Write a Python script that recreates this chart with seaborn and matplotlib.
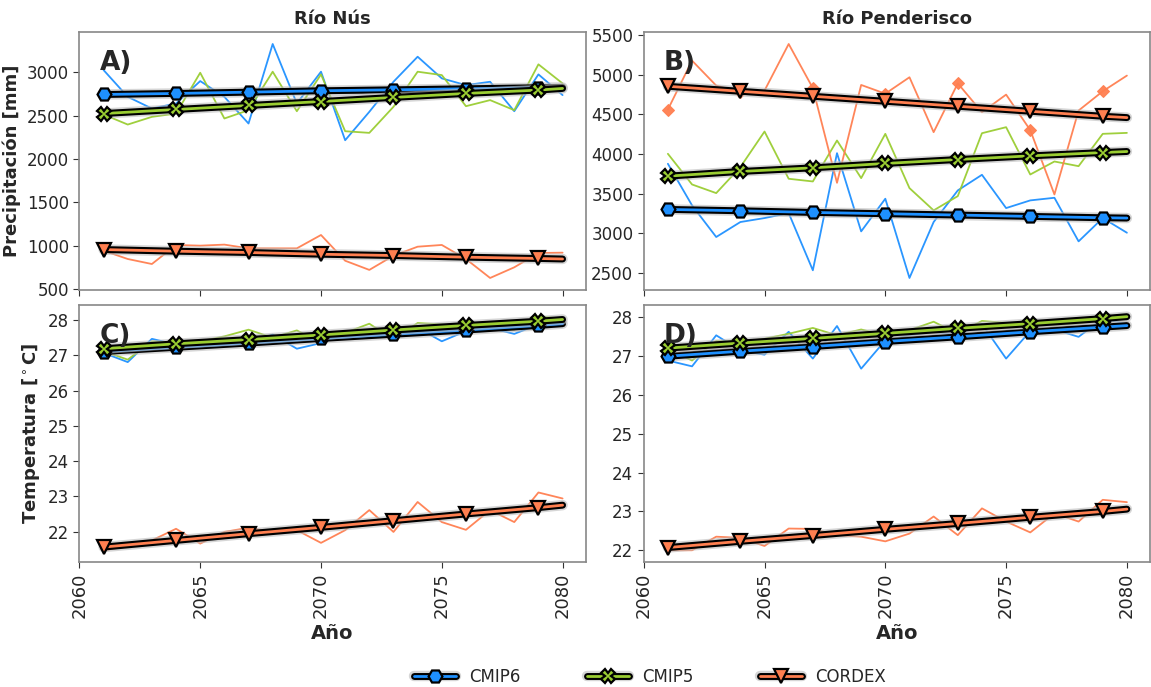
import numpy as np
import pandas as pd
import matplotlib
matplotlib.use("Agg")
import matplotlib.pyplot as plt
import matplotlib.patheffects as pe
from matplotlib.ticker import MultipleLocator
from matplotlib.legend_handler import HandlerTuple
import seaborn as sns

# ---------------- data ----------------
years = list(range(2061, 2081))
trend_years = [2061, 2064, 2067, 2070, 2073, 2076, 2079, 2080]
models = ["CMIP6", "CMIP5", "CORDEX"]

# Panel A: Río Nús precipitation
nus_pr_cmip6 = [3027, 2718, 2583, 2641, 2900, 2718, 2410, 3328, 2641, 3008,
                2217, 2545, 2892, 3181, 2931, 2853, 2892, 2552, 2977, 2738]
nus_pr_cmip5 = [2514, 2398, 2487, 2525, 2996, 2468, 2564, 3008, 2552, 2977,
                2321, 2302, 2603, 3008, 2969, 2610, 2680, 2564, 3093, 2873]
nus_pr_cordex = [942, 846, 788, 1008, 1000, 1012, 969, 969, 969, 1123,
                 826, 720, 884, 988, 1008, 846, 627, 750, 915, 919]
nus_pr_tr_cmip6 = [2745, 2757, 2772, 2788, 2799, 2811, 2823, 2826]
nus_pr_tr_cmip5 = [2525, 2572, 2618, 2664, 2711, 2757, 2796, 2815]
nus_pr_tr_cordex = [955, 936, 921, 901, 886, 867, 852, 846]

# Panel B: Río Penderisco precipitation
pen_pr_cmip6 = [3875, 3350, 2951, 3140, 3190, 3253, 2531, 4009, 3022, 3434,
                2434, 3140, 3539, 3736, 3316, 3413, 3446, 2896, 3190, 3005]
pen_pr_cmip5 = [4001, 3614, 3505, 3833, 4282, 3686, 3652, 4169, 3694, 4253,
                3568, 3287, 3467, 4261, 4337, 3740, 3904, 3845, 4253, 4265]
pen_pr_cordex = [4560, 5177, 4862, 4778, 4799, 5387, 4830, 3635, 4870, 4760,
                 4967, 4274, 4890, 4526, 4748, 4300, 3488, 4547, 4790, 4988]
pen_pr_tr_cmip6 = [3299, 3282, 3261, 3245, 3228, 3211, 3194, 3190]
pen_pr_tr_cmip5 = [3719, 3778, 3824, 3879, 3929, 3975, 4017, 4030]
pen_pr_tr_cordex = [4853, 4790, 4727, 4664, 4601, 4538, 4475, 4458]

# Panel C: Río Nús temperature
nus_t_cmip6 = [27.07, 26.81, 27.47, 27.31, 27.21, 27.45, 27.35, 27.59, 27.19, 27.35,
               27.59, 27.64, 27.54, 27.78, 27.40, 27.69, 27.78, 27.61, 27.88, 27.92]
nus_t_cmip5 = [27.12, 26.88, 27.40, 27.35, 27.40, 27.54, 27.73, 27.50, 27.71, 27.35,
               27.64, 27.90, 27.45, 27.92, 27.88, 27.78, 27.85, 27.73, 28.11, 28.04]
nus_t_cordex = [21.47, 21.58, 21.75, 22.08, 21.66, 21.99, 22.11, 21.99, 22.04, 21.68,
                22.04, 22.61, 21.99, 22.84, 22.27, 22.05, 22.61, 22.27, 23.11, 22.94]
nus_t_tr_cmip6 = [27.11, 27.23, 27.35, 27.48, 27.60, 27.72, 27.85, 27.90]
nus_t_tr_cmip5 = [27.19, 27.33, 27.45, 27.58, 27.72, 27.85, 27.97, 28.02]
nus_t_tr_cordex = [21.56, 21.75, 21.94, 22.12, 22.31, 22.50, 22.68, 22.75]

# Panel D: Río Penderisco temperature
pen_t_cmip6 = [26.89, 26.74, 27.54, 27.15, 27.04, 27.63, 26.94, 27.78, 26.68, 27.41,
               27.54, 27.63, 27.54, 27.83, 26.94, 27.65, 27.69, 27.50, 27.97, 27.83]
pen_t_cmip5 = [27.19, 26.89, 27.39, 27.37, 27.45, 27.58, 27.73, 27.54, 27.69, 27.54,
               27.67, 27.89, 27.58, 27.91, 27.86, 27.80, 27.80, 27.84, 27.97, 28.03]
pen_t_cordex = [22.00, 22.00, 22.35, 22.32, 22.11, 22.56, 22.55, 22.39, 22.35, 22.23,
                22.43, 22.87, 22.39, 23.08, 22.74, 22.46, 22.95, 22.74, 23.30, 23.24]
pen_t_tr_cmip6 = [27.00, 27.13, 27.25, 27.38, 27.50, 27.63, 27.75, 27.79]
pen_t_tr_cmip5 = [27.21, 27.34, 27.46, 27.59, 27.72, 27.84, 27.97, 28.02]
pen_t_tr_cordex = [22.07, 22.23, 22.38, 22.54, 22.69, 22.85, 23.00, 23.06]

col_titles = ["Río Nús", "Río Penderisco"]
panel_letters = ["A)", "B)", "C)", "D)"]
ylabels = ["Precipitación [mm]", "Temperatura [$^\\circ$C]"]
xlabel = "Año"
xticks = [2060, 2065, 2070, 2075, 2080]

# ---------------- style ----------------
sns.set_style("ticks")
plt.rcParams["font.family"] = ["DejaVu Sans"]

colors = {"CMIP6": "#1E90FF", "CMIP5": "#9ACD32", "CORDEX": "#FF7F50"}
markers = {"CMIP6": "H", "CMIP5": "X", "CORDEX": "v"}

panels = [
    ([nus_pr_cmip6, nus_pr_cmip5, nus_pr_cordex],
     [nus_pr_tr_cmip6, nus_pr_tr_cmip5, nus_pr_tr_cordex], False),
    ([pen_pr_cmip6, pen_pr_cmip5, pen_pr_cordex],
     [pen_pr_tr_cmip6, pen_pr_tr_cmip5, pen_pr_tr_cordex], True),
    ([nus_t_cmip6, nus_t_cmip5, nus_t_cordex],
     [nus_t_tr_cmip6, nus_t_tr_cmip5, nus_t_tr_cordex], False),
    ([pen_t_cmip6, pen_t_cmip5, pen_t_cordex],
     [pen_t_tr_cmip6, pen_t_tr_cmip5, pen_t_tr_cordex], False),
]

fig, axes = plt.subplots(2, 2, figsize=(11.51, 6.87), dpi=100, sharex="col")
fig.subplots_adjust(left=0.069, right=0.999, top=0.953, bottom=0.182,
                    hspace=0.058, wspace=0.115)

trend_effects = [pe.Stroke(linewidth=7.5, foreground="#bbbbbb", alpha=0.6),
                 pe.Stroke(linewidth=5, foreground="black"),
                 pe.Normal()]

handles = []
for i, (ax, (raw, trends, diamonds)) in enumerate(zip(axes.flat, panels)):
    for m, r in zip(models, raw):
        df = pd.DataFrame({"year": years, "val": r})
        kw = {}
        if diamonds and m == "CORDEX":
            kw = dict(marker="D", markevery=3, markersize=6,
                      markeredgecolor=colors[m], markerfacecolor=colors[m])
        sns.lineplot(data=df, x="year", y="val", ax=ax, color=colors[m],
                     linewidth=1.3, alpha=0.95, legend=False, **kw)
    for m, t in zip(models, trends):
        df = pd.DataFrame({"year": trend_years, "val": t})
        sns.lineplot(data=df, x="year", y="val", ax=ax, color=colors[m],
                     linewidth=2.0, legend=False)
        tline = ax.get_lines()[-1]
        tline.set_path_effects(trend_effects)
        dfm = df.iloc[:7]
        sns.lineplot(data=dfm, x="year", y="val", ax=ax, color=colors[m],
                     linestyle="none", marker=markers[m], markersize=10,
                     markeredgecolor="black", markeredgewidth=1.6,
                     markerfacecolor=colors[m], legend=False)
        mline = ax.get_lines()[-1]
        if i == 0:
            handles.append((tline, mline))
    ax.text(0.04, 0.93, panel_letters[i], transform=ax.transAxes,
            fontsize=19, fontweight="bold", va="top", ha="left")
    for s in ax.spines.values():
        s.set_color("#888888")
        s.set_linewidth(1.2)
    ax.tick_params(labelsize=12, length=4, color="#333333")
    ax.set_xlabel("")
    ax.set_ylabel("")

for j in range(2):
    axes[0, j].set_title(col_titles[j], fontsize=13, fontweight="bold")
    axes[1, j].yaxis.set_major_locator(MultipleLocator(1))
    axes[1, j].set_xticks(xticks)
    axes[1, j].tick_params(axis="x", labelrotation=90, labelsize=13)
    axes[1, j].set_xlabel(xlabel, fontsize=14, fontweight="bold")
axes[0, 0].set_ylabel(ylabels[0], fontsize=13, fontweight="bold")
axes[1, 0].set_ylabel(ylabels[1], fontsize=13, fontweight="bold")

fig.legend(handles=handles, labels=models, loc="lower center",
           bbox_to_anchor=(0.565, -0.02), ncol=3, frameon=False,
           fontsize=12, columnspacing=4.0, handlelength=2.5,
           handler_map={tuple: HandlerTuple(ndivide=1)})

fig.savefig("out.png", dpi=100)
